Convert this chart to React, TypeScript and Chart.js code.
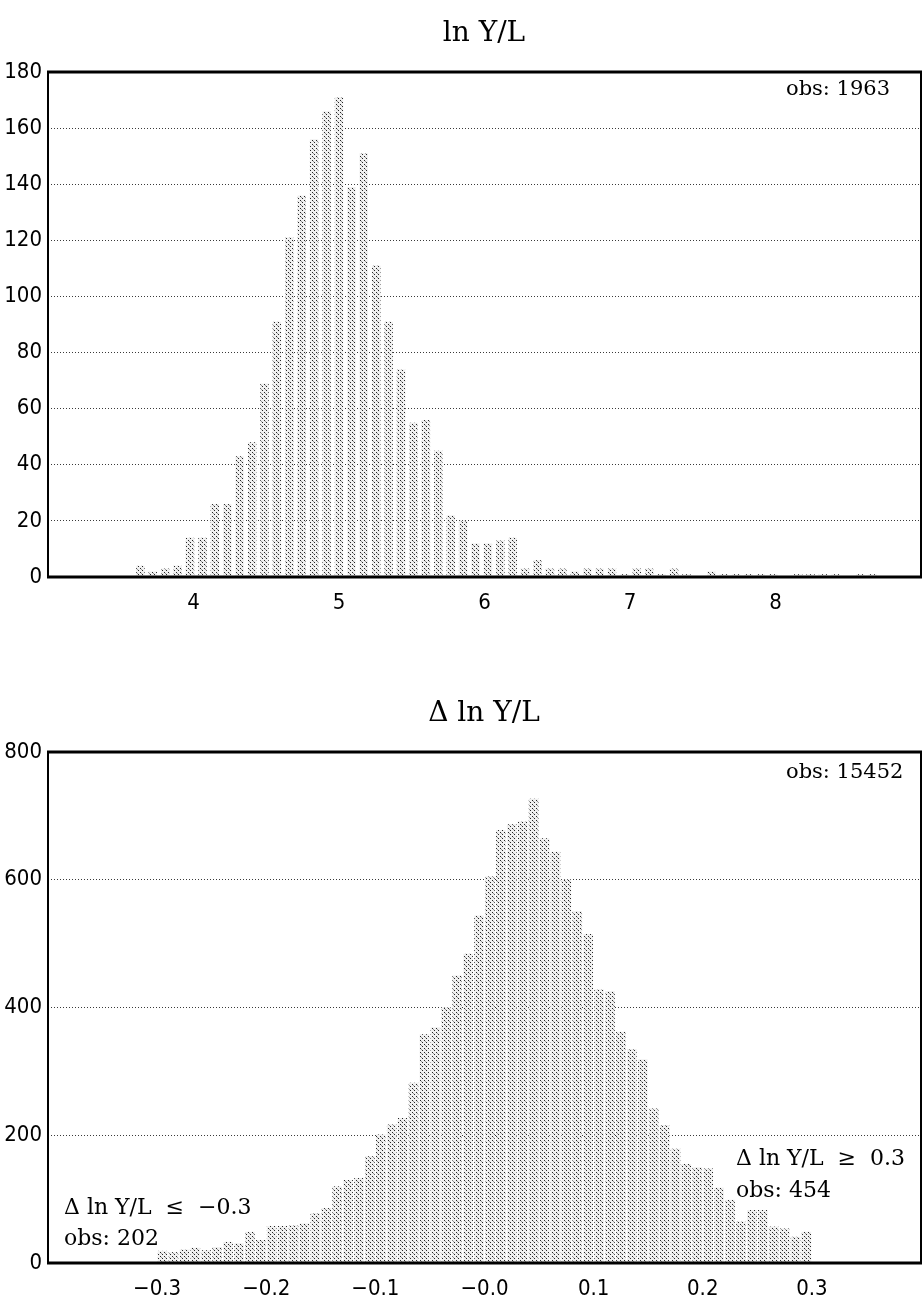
import React, { useEffect, useRef } from "react";
import { Chart, registerables } from "chart.js";

Chart.register(...registerables);

// ---------- Top histogram: ln Y/L ----------
const lnBinCenters = [
  3.635, 3.720, 3.806, 3.891, 3.976, 4.062, 4.147, 4.232, 4.317, 4.403,
  4.488, 4.573, 4.659, 4.744, 4.829, 4.915, 5.000, 5.085, 5.170, 5.256,
  5.341, 5.426, 5.512, 5.597, 5.682, 5.768, 5.853, 5.938, 6.023, 6.109,
  6.194, 6.279, 6.365, 6.450, 6.535, 6.621, 6.706, 6.791, 6.876, 6.962,
  7.047, 7.132, 7.218, 7.303, 7.388, 7.474, 7.559, 7.644, 7.729, 7.815,
  7.900, 7.985, 8.071, 8.156, 8.241, 8.327, 8.412, 8.497, 8.582, 8.668,
];
const lnCounts = [
  4, 2, 3, 4, 14, 14, 26, 26, 43, 48,
  69, 91, 121, 136, 156, 166, 171, 139, 151, 111,
  91, 74, 55, 56, 45, 22, 20, 12, 12, 13,
  14, 3, 6, 3, 3, 2, 3, 3, 3, 1,
  3, 3, 1, 3, 1, 0, 2, 1, 1, 1,
  1, 1, 0, 1, 1, 1, 1, 0, 1, 1,
];
const lnXTicks = [4, 5, 6, 7, 8];
const lnXTickLabels = ["4", "5", "6", "7", "8"];
const lnYTicks = [0, 20, 40, 60, 80, 100, 120, 140, 160, 180];
const lnTitle = "ln Y/L";
const lnObs = "obs: 1963";

// ---------- Bottom histogram: Δ ln Y/L ----------
const dBinCenters = [
  -0.295, -0.285, -0.275, -0.265, -0.255, -0.245, -0.235, -0.225, -0.215, -0.205,
  -0.195, -0.185, -0.175, -0.165, -0.155, -0.145, -0.135, -0.125, -0.115, -0.105,
  -0.095, -0.085, -0.075, -0.065, -0.055, -0.045, -0.035, -0.025, -0.015, -0.005,
  0.005, 0.015, 0.025, 0.035, 0.045, 0.055, 0.065, 0.075, 0.085, 0.095,
  0.105, 0.115, 0.125, 0.135, 0.145, 0.155, 0.165, 0.175, 0.185, 0.195,
  0.205, 0.215, 0.225, 0.235, 0.245, 0.255, 0.265, 0.275, 0.285, 0.295,
];
const dCounts = [
  19, 17, 21, 24, 20, 25, 33, 31, 49, 36,
  58, 58, 59, 62, 78, 86, 120, 130, 133, 167,
  201, 217, 227, 282, 358, 369, 400, 450, 484, 544,
  605, 678, 687, 691, 727, 665, 644, 600, 551, 515,
  428, 426, 362, 335, 319, 242, 216, 179, 155, 150,
  148, 118, 99, 65, 83, 83, 57, 54, 41, 49,
];
const dXTicks = [-0.3, -0.2, -0.1, 0, 0.1, 0.2, 0.3];
const dXTickLabels = ["\u22120.3", "\u22120.2", "\u22120.1", "\u22120.0", "0.1", "0.2", "0.3"];
const dYTicks = [0, 200, 400, 600, 800];
const dTitle = "\u0394 ln Y/L";
const dObs = "obs: 15452";
const dLowLabel = "\u0394 ln Y/L  \u2264  \u22120.3";
const dLowObs = "obs: 202";
const dHighLabel = "\u0394 ln Y/L  \u2265  0.3";
const dHighObs = "obs: 454";

const TICK_FONT = {
  family: "'Liberation Sans Narrow', 'Arial Narrow', 'DejaVu Sans Condensed', sans-serif",
  size: 22,
};
const SERIF = "'DejaVu Serif', 'Liberation Serif', serif";

function makePattern(ctx: CanvasRenderingContext2D) {
  const tile = document.createElement("canvas");
  tile.width = 4;
  tile.height = 4;
  const p = tile.getContext("2d")!;
  p.fillStyle = "#f0f0f0";
  p.fillRect(0, 0, 4, 4);
  p.fillStyle = "#262626";
  p.fillRect(0, 0, 1, 1);
  p.fillRect(2, 2, 1, 1);
  p.fillStyle = "#9a9a9a";
  p.fillRect(1, 1, 1, 1);
  return ctx.createPattern(tile, "repeat");
}

type TextItem = { text: string; x: number; y: number; size: number; align: CanvasTextAlign };

function textPlugin(items: TextItem[]) {
  return {
    id: "texts",
    afterDraw(chart: any) {
      const ctx = chart.ctx as CanvasRenderingContext2D;
      ctx.save();
      ctx.fillStyle = "#000";
      ctx.textBaseline = "alphabetic";
      for (const t of items) {
        ctx.font = `${t.size}px ${SERIF}`;
        ctx.textAlign = t.align;
        ctx.fillText(t.text, t.x, t.y);
      }
      ctx.restore();
    },
  };
}

const framePlugin = {
  id: "frame",
  afterDraw(chart: any) {
    const { left, right, top, bottom } = chart.chartArea;
    const ctx = chart.ctx as CanvasRenderingContext2D;
    ctx.save();
    ctx.strokeStyle = "#000";
    ctx.setLineDash([]);
    ctx.lineWidth = 3;
    ctx.beginPath();
    ctx.moveTo(left - 1, top);
    ctx.lineTo(right + 1, top);
    ctx.moveTo(left - 1, bottom);
    ctx.lineTo(right + 1, bottom);
    ctx.stroke();
    ctx.lineWidth = 2;
    ctx.beginPath();
    ctx.moveTo(left, top);
    ctx.lineTo(left, bottom);
    ctx.moveTo(right, top);
    ctx.lineTo(right, bottom);
    ctx.stroke();
    ctx.restore();
  },
};

function labelFor(values: number[], labels: string[], v: number) {
  for (let i = 0; i < values.length; i++) {
    if (Math.abs(values[i] - v) < 1e-9) return labels[i];
  }
  return "";
}

function buildConfig(opts: {
  centers: number[];
  counts: number[];
  xMin: number;
  xMax: number;
  xTicks: number[];
  xLabels: string[];
  yMax: number;
  yTicks: number[];
  barPct: number;
  xAxisHeight: number;
  pattern: any;
  texts: TextItem[];
}) {
  return {
    type: "bar" as const,
    data: {
      datasets: [
        {
          data: opts.centers.map((x, i) => ({ x, y: opts.counts[i] })),
          backgroundColor: opts.pattern,
          borderWidth: 0,
          barPercentage: opts.barPct,
          categoryPercentage: 1,
        },
      ],
    },
    options: {
      responsive: false,
      animation: false as const,
      events: [],
      layout: { padding: { top: 72, right: 3, left: 0, bottom: 0 } },
      plugins: {
        legend: { display: false },
        tooltip: { enabled: false },
        title: { display: false },
      },
      scales: {
        x: {
          type: "linear" as const,
          min: opts.xMin,
          max: opts.xMax,
          offset: false,
          grid: { display: false, offset: false, drawTicks: false },
          border: { display: false },
          afterBuildTicks: (s: any) => {
            s.ticks = opts.xTicks.map((v) => ({ value: v }));
          },
          afterFit: (s: any) => {
            s.height = opts.xAxisHeight;
          },
          ticks: {
            autoSkip: false,
            maxRotation: 0,
            minRotation: 0,
            padding: 13,
            color: "#000",
            font: TICK_FONT,
            callback: (v: any) => labelFor(opts.xTicks, opts.xLabels, Number(v)),
          },
        },
        y: {
          type: "linear" as const,
          min: 0,
          max: opts.yMax,
          afterBuildTicks: (s: any) => {
            s.ticks = opts.yTicks.map((v) => ({ value: v }));
          },
          afterFit: (s: any) => {
            s.width = 48;
          },
          grid: { color: "#3a3a3a", lineWidth: 1, drawTicks: false },
          border: { display: false, dash: [1, 2] },
          ticks: {
            padding: 6,
            color: "#000",
            font: TICK_FONT,
            callback: (v: any) => String(v),
          },
        },
      },
    },
    plugins: [framePlugin, textPlugin(opts.texts)],
  };
}

export default function App() {
  const topRef = useRef<HTMLCanvasElement | null>(null);
  const botRef = useRef<HTMLCanvasElement | null>(null);

  useEffect(() => {
    const c1 = topRef.current!;
    const c2 = botRef.current!;
    const p1 = makePattern(c1.getContext("2d")!);
    const p2 = makePattern(c2.getContext("2d")!);

    const chart1 = new Chart(
      c1,
      buildConfig({
        centers: lnBinCenters,
        counts: lnCounts,
        xMin: 3,
        xMax: 9,
        xTicks: lnXTicks,
        xLabels: lnXTickLabels,
        yMax: 180,
        yTicks: lnYTicks,
        barPct: 0.68,
        xAxisHeight: 63,
        pattern: p1,
        texts: [
          { text: lnTitle, x: 484, y: 41, size: 28, align: "center" },
          { text: lnObs, x: 786, y: 95, size: 21, align: "left" },
        ],
      }) as any
    );

    const chart2 = new Chart(
      c2,
      buildConfig({
        centers: dBinCenters,
        counts: dCounts,
        xMin: -0.4,
        xMax: 0.4,
        xTicks: dXTicks,
        xLabels: dXTickLabels,
        yMax: 800,
        yTicks: dYTicks,
        barPct: 0.88,
        xAxisHeight: 42,
        pattern: p2,
        texts: [
          { text: dTitle, x: 484, y: 41, size: 28, align: "center" },
          { text: dObs, x: 786, y: 98, size: 21, align: "left" },
          { text: dLowLabel, x: 64, y: 534, size: 22, align: "left" },
          { text: dLowObs, x: 64, y: 565, size: 22, align: "left" },
          { text: dHighLabel, x: 736, y: 485, size: 22, align: "left" },
          { text: dHighObs, x: 736, y: 517, size: 22, align: "left" },
        ],
      }) as any
    );

    return () => {
      chart1.destroy();
      chart2.destroy();
    };
  }, []);

  return (
    <div style={{ position: "absolute", left: 0, top: 0, width: 924, height: 1305, background: "#fff" }}>
      <canvas
        ref={topRef}
        width={924}
        height={640}
        style={{ position: "absolute", left: 0, top: 0, width: 924, height: 640 }}
      />
      <canvas
        ref={botRef}
        width={924}
        height={625}
        style={{ position: "absolute", left: 0, top: 680, width: 924, height: 625 }}
      />
    </div>
  );
}
